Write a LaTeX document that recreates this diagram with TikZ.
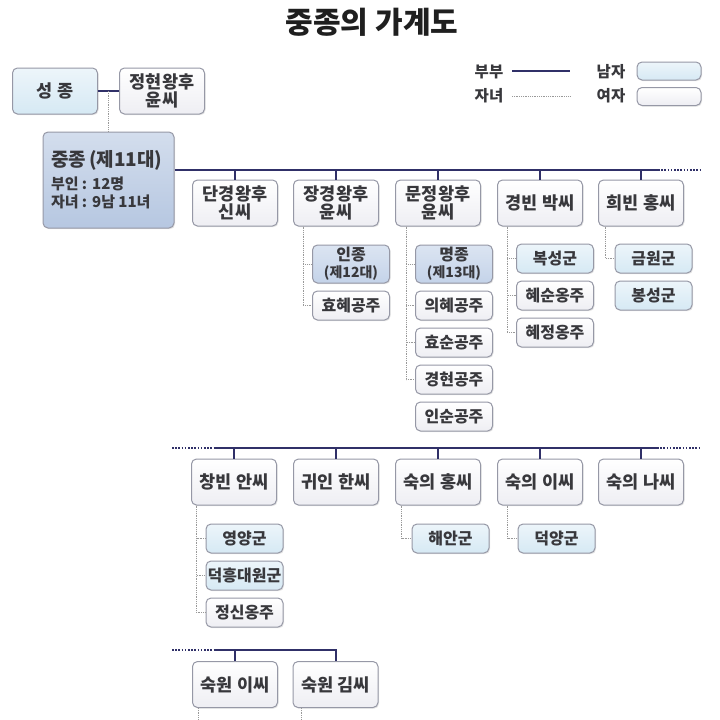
\documentclass[tikz,border=0pt]{standalone}
\usepackage{fontspec}
\setmainfont{Noto Sans CJK KR}
\usetikzlibrary{positioning,shadows,calc}
\definecolor{navy}{RGB}{48,48,104}
\definecolor{boyblue}{RGB}{214,233,244}
\definecolor{girlgray}{RGB}{238,238,243}
\definecolor{kingblue}{RGB}{182,199,225}
\definecolor{heirblue}{RGB}{196,211,233}
\definecolor{boxline}{RGB}{150,152,166}
\definecolor{txt}{RGB}{56,56,60}

\tikzset{
  box/.style={draw=boxline, line width=1pt, rounded corners=5pt, align=center,
    text=txt, inner sep=1pt,
    drop shadow={opacity=0.2, shadow xshift=1pt, shadow yshift=-1.2pt}},
  wife/.style={box, top color=white, bottom color=girlgray,
    minimum width=85pt, minimum height=46pt, font=\fontsize{17.5}{17.5}\selectfont\bfseries},
  husband/.style={wife, top color=boyblue!45, bottom color=boyblue},
  son/.style={box, top color=boyblue!45, bottom color=boyblue,
    minimum width=77pt, minimum height=29pt, font=\fontsize{16}{17}\selectfont\bfseries},
  daughter/.style={son, top color=white, bottom color=girlgray},
  heir/.style={son, top color=heirblue!60, bottom color=heirblue, minimum height=38pt},
  king/.style={box, top color=kingblue!60, bottom color=kingblue, align=left,
    minimum width=131pt, minimum height=96pt, text width=115pt},
  legend/.style={font=\fontsize{15.5}{17}\selectfont\bfseries, text=txt},
  couple/.style={draw=navy, line width=2pt},
  more/.style={draw=navy, line width=1.6pt, dash pattern=on 1.6pt off 1.6pt},
  kid/.style={draw=black!40, line width=0.7pt, dash pattern=on 0.8pt off 1pt},
  node distance=7pt
}

\begin{document}
\begin{tikzpicture}[x=1pt,y=-1pt]
        \useasboundingbox[fill=white] (0,0) rectangle (720,720);
        %Title
        \node[font=\fontsize{30}{34}\selectfont\bfseries, text=black!88] (title) at (372,22) {중종의 가계도};
        %Legend
        \node[legend] (lgcouple) at (489,72) {부부};
        \node[legend] (lgkid) at (489,96) {자녀};
        \coordinate (lc1) at (512,71);
        \coordinate (lc2) at (570,71);
        \coordinate (lk1) at (512,96);
        \coordinate (lk2) at (570,96);
        \draw[couple, line width=2.4pt] (lc1) -- (lc2);
        \draw[kid] (lk1) -- (lk2);
        \node[legend] (lgman) at (611,72) {남자};
        \node[legend] (lgwoman) at (611,96) {여자};
        \node[husband, minimum width=64pt, minimum height=18pt] (lgmanbox) at (669,71) {};
        \node[wife, minimum width=64pt, minimum height=18pt] (lgwomanbox) at (669,96.5) {};
        %Parents
        \node[husband] (seongjong) at (55,91) {성 종};
        \node[wife] (jeonghyeon) at (162,91) {정현왕후\\윤씨};
        \draw[couple] (seongjong) -- (jeonghyeon);
        \node[king] (jungjong) at (108.5,180)
          {{\fontsize{19}{22}\selectfont\bfseries 중종 (제11대)}\\[5pt]
           {\fontsize{15}{19}\selectfont\bfseries 부인 : 12명}\\[3pt]
           {\fontsize{15}{19}\selectfont\bfseries 자녀 : 9남 11녀}};
        \draw[kid] ($(seongjong.east)!0.5!(jeonghyeon.west)$) -- (jungjong.north);
        %Wives, first row
        \coordinate (row1) at ([yshift=10pt]jungjong.east);
        \coordinate (row1end) at (658,170);
        \coordinate (row1more) at (700,170);
        \node[wife] (w11) at (235,203) {단경왕후\\신씨};
        \node[wife] (w12) at (336,203) {장경왕후\\윤씨};
        \node[wife] (w13) at (438,203) {문정왕후\\윤씨};
        \node[wife] (w14) at (540,203) {경빈 박씨};
        \node[wife] (w15) at (641,203) {희빈 홍씨};
        \draw[couple] (row1) -- (row1end);
        \draw[more] (row1end) -- (row1more);
        \foreach \w in {w11,w12,w13,w14,w15}
          \draw[couple] (\w.north) -- (\w.north |- row1);
        %Children, first row
        \node[heir] (c121) at (351,264) {인종\\{\fontsize{14}{16}\selectfont\bfseries(제12대)}};
        \node[daughter, below=of c121] (c122) {효혜공주};
        \node[heir] (c131) at (454,264) {명종\\{\fontsize{14}{16}\selectfont\bfseries(제13대)}};
        \node[daughter, below=of c131] (c132) {의혜공주};
        \node[daughter, below=of c132] (c133) {효순공주};
        \node[daughter, below=of c133] (c134) {경현공주};
        \node[daughter, below=of c134] (c135) {인순공주};
        \node[son] (c141) at (555,258.5) {복성군};
        \node[daughter, below=of c141] (c142) {혜순옹주};
        \node[daughter, below=of c142] (c143) {혜정옹주};
        \node[son] (c151) at (653.5,258.5) {금원군};
        \node[son, below=of c151] (c152) {봉성군};
        \foreach \c in {c121,c122}
          \draw[kid] (w12.south -| c121.west) ++(-9,0) |- (\c.west);
        \foreach \c in {c131,c132,c133,c134}
          \draw[kid] (w13.south -| c131.west) ++(-9,0) |- (\c.west);
        \foreach \c in {c141,c142,c143}
          \draw[kid] (w14.south -| c141.west) ++(-9,0) |- (\c.west);
        \draw[kid] (w15.south -| c151.west) ++(-9,0) |- (c151.west);
        %Wives, second row
        \coordinate (row2more) at (172,448);
        \coordinate (row2) at (215,448);
        \coordinate (row2end) at (657,448);
        \coordinate (row2tail) at (700,448);
        \node[wife] (w21) at (234,482) {창빈 안씨};
        \node[wife] (w22) at (336,482) {귀인 한씨};
        \node[wife] (w23) at (438,482) {숙의 홍씨};
        \node[wife] (w24) at (540,482) {숙의 이씨};
        \node[wife] (w25) at (641,482) {숙의 나씨};
        \draw[more] (row2more) -- (row2);
        \draw[couple] (row2) -- (row2end);
        \draw[more] (row2end) -- (row2tail);
        \foreach \w in {w21,w22,w23,w24,w25}
          \draw[couple] (\w.north) -- (\w.north |- row2);
        %Children, second row
        \node[son] (c211) at (244.5,538.5) {영양군};
        \node[son, below=of c211, inner sep=0pt] (c212) {덕흥대원군};
        \node[daughter, below=of c212] (c213) {정신옹주};
        \node[son] (c231) at (450.5,538.5) {해안군};
        \node[son] (c241) at (556.5,538.5) {덕양군};
        \foreach \c in {c211,c212,c213}
          \draw[kid] (w21.south -| c211.west) ++(-9,0) |- (\c.west);
        \draw[kid] (w23.south -| c231.west) ++(-10,0) |- (c231.west);
        \draw[kid] (w24.south -| c241.west) ++(-10,0) |- (c241.west);
        %Wives, third row
        \coordinate (row3more) at (172,650);
        \coordinate (row3) at (215,650);
        \node[wife] (w31) at (235,684.5) {숙원 이씨};
        \node[wife] (w32) at (335.5,684.5) {숙원 김씨};
        \draw[more] (row3more) -- (row3);
        \draw[couple] (row3) -| (w32.north);
        \draw[couple] (w31.north) -- (w31.north |- row3);
        \draw[kid] ([xshift=6pt]w31.south west) -- ++(0,14);
        \draw[kid] ([xshift=9pt]w32.south west) -- ++(0,14);
\end{tikzpicture}
\end{document}
